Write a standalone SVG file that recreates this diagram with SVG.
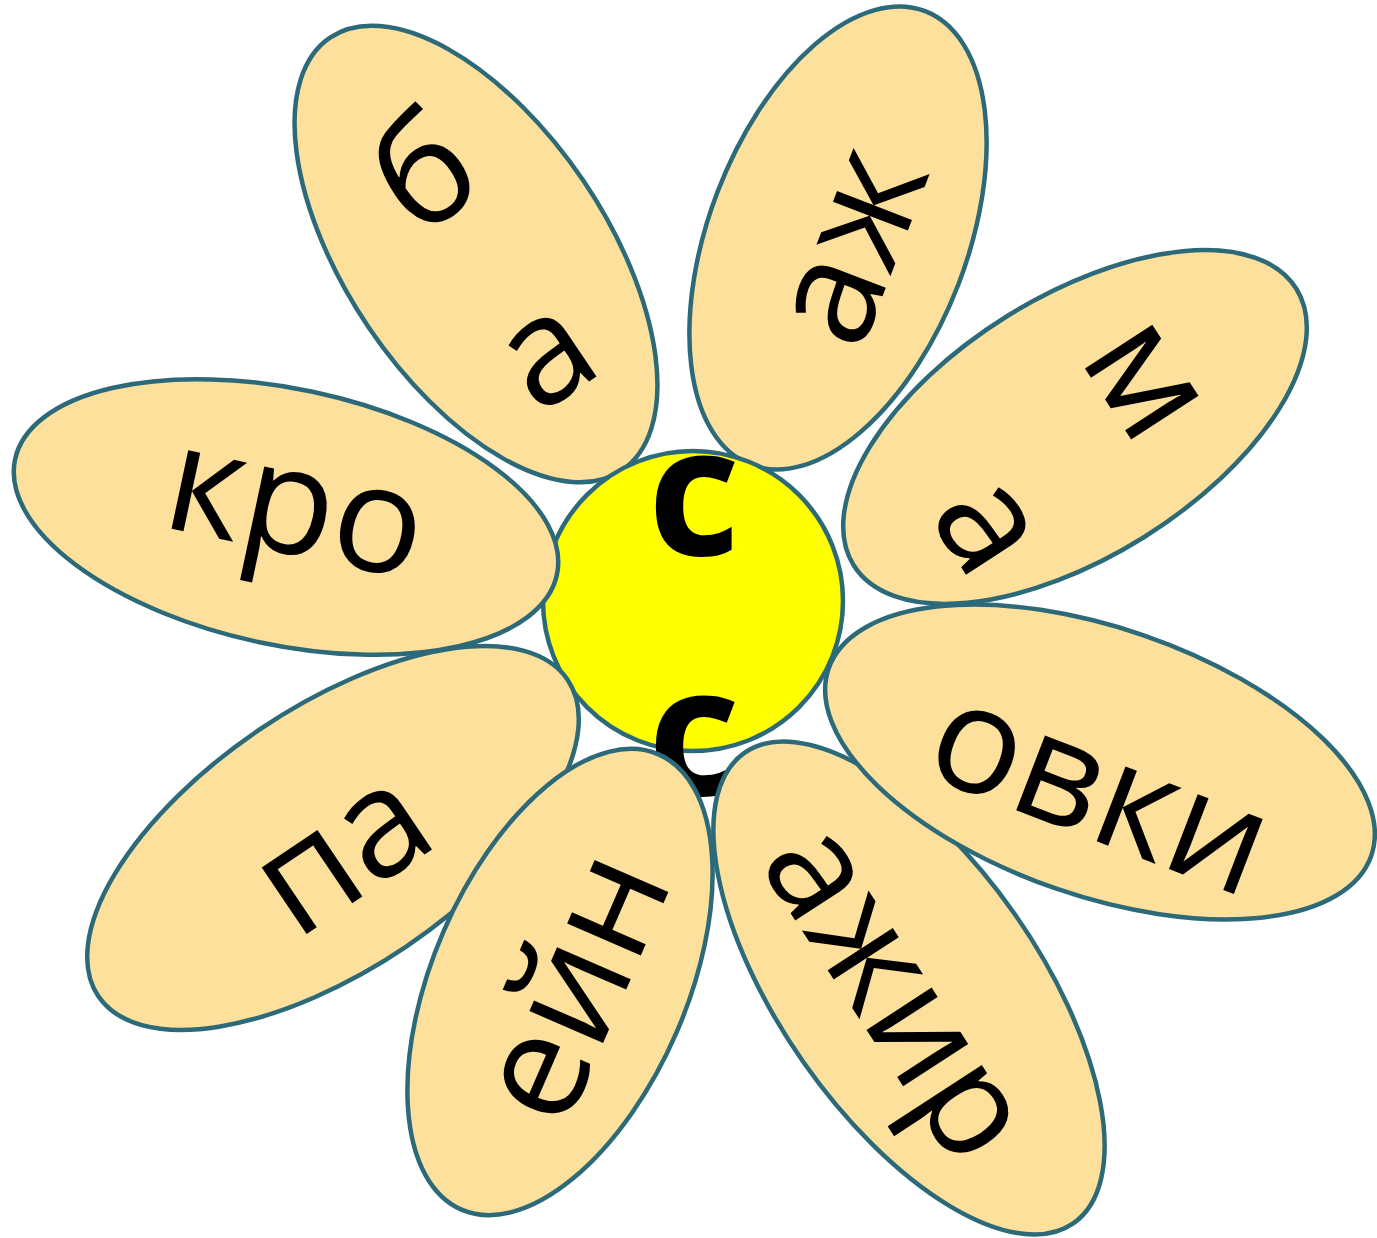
<svg xmlns="http://www.w3.org/2000/svg" width="1377" height="1238" viewBox="0 0 1377 1238">
<style>
.petal{fill:#FDE09B;stroke:#2C6A7A;stroke-width:4.5}
.core{fill:#FFFF00;stroke:#2C6A7A;stroke-width:4.5}
.t{font-family:"Open Sans","Noto Sans","DejaVu Sans",sans-serif;font-size:150px;fill:#000;text-anchor:middle}
.c{font-family:"Open Sans","Noto Sans","DejaVu Sans",sans-serif;font-size:180px;font-weight:bold;fill:#000;text-anchor:middle}
</style>
<rect width="1377" height="1238" fill="#fff"/>
<g id="petal-ba">
<ellipse class="petal" cx="476" cy="254" rx="261" ry="130" transform="rotate(56 476 254)"/>
<text class="t" transform="translate(452 215) rotate(-34)">б</text>
<text class="t" transform="translate(572 393) rotate(-34)">а</text>
</g>
<g id="petal-azh">
<ellipse class="petal" cx="838" cy="238" rx="243" ry="129" transform="rotate(-69 838 238)"/>
<text class="t" transform="translate(895 264) rotate(-69)">аж</text>
</g>
<g id="center">
<circle class="core" cx="693" cy="601" r="150"/>
</g>
<g id="petal-kro">
<ellipse class="petal" cx="286" cy="517" rx="277" ry="128" transform="rotate(12 286 517)"/>
<text class="t" transform="translate(286 553) rotate(12)">кро</text>
</g>
<g id="petal-ma">
<ellipse class="petal" cx="1075" cy="427" rx="261" ry="130" transform="rotate(-32 1075 427)"/>
<text class="t" transform="translate(1108 404) rotate(57)">м</text>
<text class="t" transform="translate(950 550) rotate(57)">а</text>
</g>
<g id="center-letters">
<text class="c" x="694" y="555">с</text>
<text class="c" x="694" y="795">с</text>
</g>
<g id="petal-pa">
<ellipse class="petal" cx="333" cy="838" rx="283" ry="131" transform="rotate(-34 333 838)"/>
<text class="t" transform="translate(369 892) rotate(-34)">па</text>
</g>
<g id="petal-ein">
<ellipse class="petal" cx="560" cy="982" rx="248" ry="127" transform="rotate(-66.6 560 982)"/>
<text class="t" transform="translate(619 1006) rotate(-66.6)">ейн</text>
</g>
<g id="petal-azhir">
<ellipse class="petal" cx="909" cy="988" rx="287" ry="129" transform="rotate(55 909 988)"/>
<text class="t" style="font-size:145px" transform="translate(858 1017) rotate(57)">ажир</text>
</g>
<g id="petal-ovki">
<ellipse class="petal" cx="1100" cy="762" rx="287" ry="134" transform="rotate(19 1100 762)"/>
<text class="t" transform="translate(1083 836) rotate(21)">овки</text>
</g>
</svg>
